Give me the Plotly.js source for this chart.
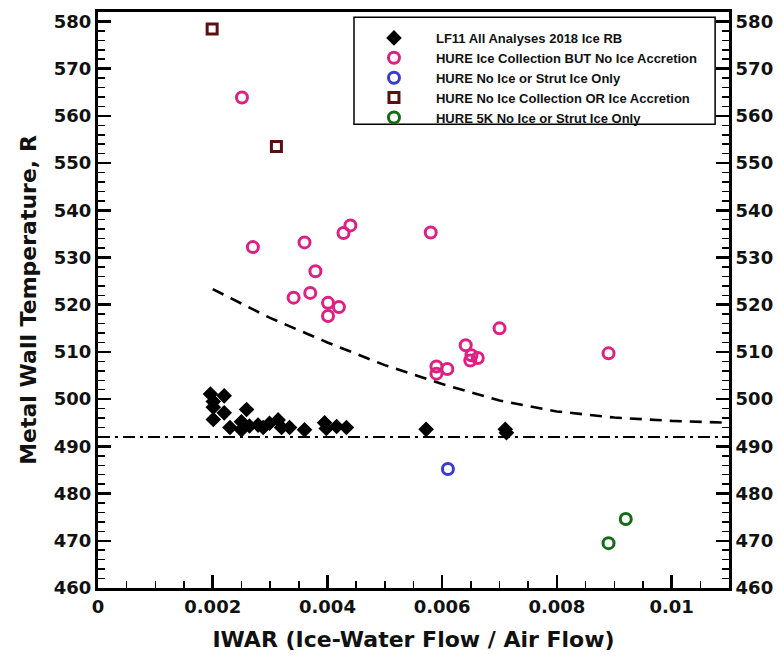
<!DOCTYPE html>
<html>
<head>
<meta charset="utf-8">
<script src="https://cdn.plot.ly/plotly-3.0.1.min.js"></script>
<style>html,body{margin:0;padding:0;background:#fff;}#chart{width:778px;height:658px;}</style>
</head>
<body>
<div id="chart"></div>
<script>
// LF11 All Analyses 2018 Ice RB (black diamonds)
var lf11X = [0.00196,0.00201,0.00201,0.00201,0.00220,0.00220,0.00230,0.00250,0.00250,0.00259,0.00264,0.00279,0.00288,0.00299,0.00314,0.00320,0.00334,0.00360,0.00395,0.00398,0.00416,0.00433,0.00572,0.00710,0.00712];
var lf11Y = [501.1,499.5,498.3,495.7,500.7,497.1,494.0,495.2,493.5,497.8,494.3,494.5,494.0,494.9,495.6,494.0,494.0,493.5,495.0,493.8,494.2,494.0,493.6,493.6,492.9];

// HURE Ice Collection BUT No Ice Accretion (pink circles)
var pinkX = [0.00251,0.00270,0.00360,0.00379,0.00428,0.00440,0.00580,0.00700,0.00641,0.00651,0.00662,0.00649,0.00590,0.00609,0.00590,0.00890,0.00341,0.00370,0.00401,0.00420,0.00401];
var pinkY = [563.9,532.2,533.2,527.1,535.2,536.8,535.3,515.0,511.4,509.3,508.7,508.2,506.9,506.4,505.4,509.7,521.5,522.5,520.4,519.5,517.6];

// HURE No Ice or Strut Ice Only (blue circle)
var blueX = [0.00610];
var blueY = [485.2];

// HURE No Ice Collection OR Ice Accretion (brown squares)
var brownX = [0.00199,0.00311];
var brownY = [578.4,553.5];

// HURE 5K No Ice or Strut Ice Only (green circles)
var greenX = [0.00890,0.00920];
var greenY = [469.5,474.6];

// dashed boundary curve
var curveX = [0.002,0.003,0.004,0.005,0.006,0.007,0.008,0.009,0.010,0.011];
var curveY = [523.3,517.2,512.0,507.2,503.2,499.7,497.4,496.1,495.4,495.0];

// freezing line (dash-dot)
var freezeX = [0, 0.011];
var freezeY = [492, 492];

var names = ["LF11 All Analyses 2018 Ice RB","HURE Ice Collection BUT No Ice Accretion","HURE No Ice or Strut Ice Only","HURE No Ice Collection OR Ice Accretion","HURE 5K No Ice or Strut Ice Only"];

var xTickVals = [0,0.002,0.004,0.006,0.008,0.01];
var xTickText = ["0","0.002","0.004","0.006","0.008","0.01"];
var yTickVals = [460,470,480,490,500,510,520,530,540,550,560,570,580];
var yTickText = yTickVals.map(String);

var traces = [
  {x: curveX, y: curveY, mode:'lines', showlegend:false, hoverinfo:'skip',
   line:{color:'#000', width:2.6, dash:'12px,8px'}},
  {x: freezeX, y: freezeY, mode:'lines', showlegend:false, hoverinfo:'skip', yaxis:'y2',
   line:{color:'#000', width:2, dash:'12px,5px,3px,5px'}},
  {x: lf11X, y: lf11Y, mode:'markers', name:names[0],
   marker:{symbol:'diamond', size:12, color:'#000', line:{width:0}}},
  {x: pinkX, y: pinkY, mode:'markers', name:names[1],
   marker:{symbol:'circle-open', size:11, color:'#e01f82', line:{width:3, color:'#e01f82'}}},
  {x: blueX, y: blueY, mode:'markers', name:names[2],
   marker:{symbol:'circle-open', size:11, color:'#3a3ad0', line:{width:3, color:'#3a3ad0'}}},
  {x: brownX, y: brownY, mode:'markers', name:names[3],
   marker:{symbol:'square-open', size:10, color:'#5a0f12', line:{width:3, color:'#5a0f12'}}},
  {x: greenX, y: greenY, mode:'markers', name:names[4],
   marker:{symbol:'circle-open', size:11, color:'#156a15', line:{width:3, color:'#156a15'}}}
];

var tickFont = {family:'DejaVu Sans', size:18, color:'#111', weight:'bold'};
var yCommon = {
  range:[460,582], showgrid:false, zeroline:false,
  showline:true, linecolor:'#000', linewidth:3,
  ticks:'inside', ticklen:13, tickwidth:2.5, tickcolor:'#000',
  tickvals:yTickVals, ticktext:yTickText, tickfont:tickFont,
  minor:{dtick:2, tick0:460, ticks:'inside', ticklen:7, tickwidth:1.5, tickcolor:'#000', showgrid:false}
};

var layout = {
  width:778, height:658,
  margin:{l:98, r:49, t:12, b:70},
  paper_bgcolor:'#fff', plot_bgcolor:'#fff',
  showlegend:true,
  xaxis:{
    range:[0,0.011], showgrid:false, zeroline:false,
    showline:true, mirror:true, linecolor:'#000', linewidth:3,
    ticks:'inside', ticklen:13, tickwidth:2.5, tickcolor:'#000',
    tickvals:xTickVals, ticktext:xTickText, tickfont:tickFont,
    minor:{dtick:0.0005, tick0:0, ticks:'inside', ticklen:7, tickwidth:1.5, tickcolor:'#000', showgrid:false},
    title:{text:'IWAR (Ice-Water Flow / Air Flow)', standoff:17,
      font:{family:'DejaVu Sans', size:22, color:'#111', weight:'bold'}}
  },
  yaxis: Object.assign({}, yCommon, {
    title:{text:'Metal Wall Temperature, R', standoff:12,
      font:{family:'DejaVu Sans', size:22, color:'#111', weight:'bold'}}
  }),
  yaxis2: Object.assign({}, yCommon, {overlaying:'y', side:'right'}),
  shapes:[{
    type:'rect', xref:'paper', yref:'paper', layer:'below',
    x0:0.4057, x1:0.978, y0:0.805, y1:0.991,
    line:{color:'#000', width:1.5}, fillcolor:'#fff'
  }],
  legend:{
    x:0.4025, xanchor:'left', y:0.981, yanchor:'top',
    bgcolor:'rgba(0,0,0,0)', borderwidth:0,
    itemwidth:74, tracegroupgap:0,
    font:{family:'Liberation Sans', size:13, color:'#111', weight:'bold'}
  }
};

Plotly.newPlot('chart', traces, layout, {staticPlot:true, displayModeBar:false});
</script>
</body>
</html>
